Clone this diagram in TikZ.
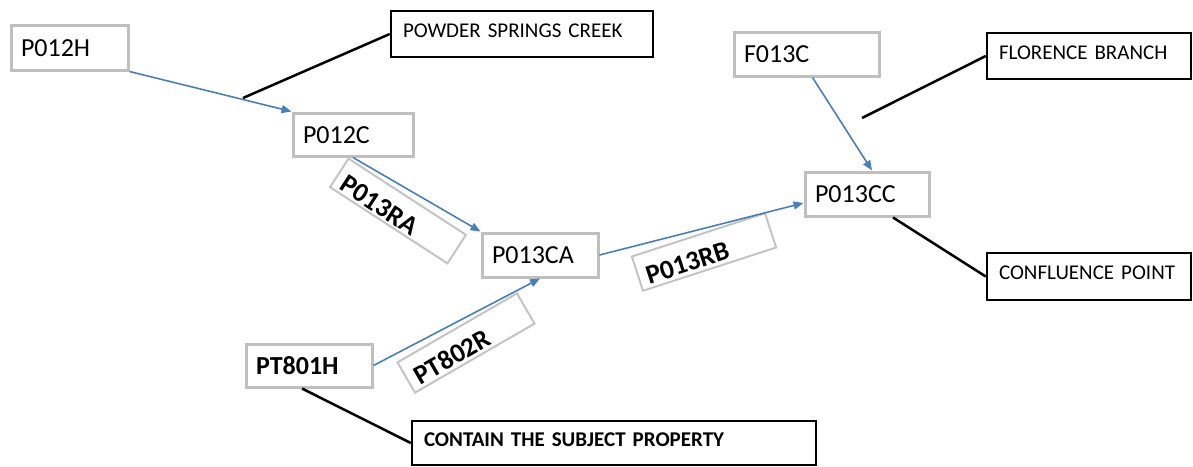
\documentclass[tikz,border=0pt]{standalone}
\usepackage{fontspec}
\setmainfont{Carlito}
\usetikzlibrary{arrows.meta}
\definecolor{boxgray}{RGB}{191,191,191}
\definecolor{lblgray}{RGB}{196,196,196}
\definecolor{flowblue}{RGB}{74,126,187}
\begin{document}
\begin{tikzpicture}[x=1pt,y=-1pt,
  gbox/.style={draw=boxgray, line width=3pt, inner xsep=10pt, inner ysep=0pt, align=left,
    text height=17pt, text depth=0pt, font=\fontsize{26pt}{30pt}\selectfont},
  gboxb/.style={gbox, font=\bfseries\fontsize{26pt}{30pt}\selectfont},
  bbox/.style={draw=black, line width=2.5pt, inner xsep=12pt, inner ysep=0pt, align=left,
    text height=15pt, text depth=9pt, font=\fontsize{21pt}{25pt}\selectfont},
  bboxb/.style={bbox, font=\bfseries\fontsize{21pt}{25pt}\selectfont},
  lbox/.style={draw=lblgray, line width=2pt, inner xsep=8pt, inner ysep=3pt, align=left,
    text height=28pt, text depth=0pt, font=\bfseries\fontsize{27pt}{30pt}\selectfont},
  flow/.style={draw=flowblue, line width=1.6pt, -{Triangle[length=10pt,width=8pt]}},
  callout/.style={draw=black, line width=2.5pt}]
\fill[white] (0,0) rectangle (1193,466);
\useasboundingbox (0,0) rectangle (1193,466);

% gray boxes
\node[gbox, text width=97pt, minimum height=45pt] (p012h) at (69.5,47.5) {P012H};
\node[gbox, text width=100pt, minimum height=43pt] (p012c) at (353,134.5) {P012C};
\node[gbox, text width=96pt, minimum height=44pt] (p013ca) at (540,255) {P013CA};
\node[gbox, text width=104pt, minimum height=44pt] (p013cc) at (867,194) {P013CC};
\node[gbox, text width=125pt, minimum height=44pt] (f013c) at (806.5,54) {F013C};
\node[gboxb, text width=106pt, minimum height=43pt] (pt801h) at (309,365.5) {PT801H};

% black callout boxes
\node[bbox, text width=238pt, minimum height=46pt] (powder) at (522,34) {POWDER SPRINGS CREEK};
\node[bbox, text width=180pt, minimum height=46pt] (florence) at (1089,56) {FLORENCE BRANCH};
\node[bbox, text width=180pt, minimum height=47pt] (confluence) at (1089,276.5) {CONFLUENCE POINT};
\node[bboxb, text width=380pt, minimum height=44pt] (contain) at (614,443) {CONTAIN THE SUBJECT PROPERTY};

% rotated reach labels
\node[lbox, text width=124pt, minimum height=32pt, rotate=-33] (p013ra) at (398,211) {P013RA};
\node[lbox, text width=124pt, minimum height=36pt, rotate=18] (p013rb) at (704,252) {P013RB};
\node[lbox, text width=122pt, minimum height=35pt, rotate=30] (pt802r) at (466,343) {PT802R};

% flow arrows
\draw[flow] (p012h.south east) -- (p012c.north west);
\draw[flow] (p012c.south) -- (p013ca.north west);
\draw[flow] (p013ca.east) -- ([yshift=-9pt]p013cc.west);
\draw[flow] ([xshift=6pt]f013c.south) -- ([xshift=5pt]p013cc.north);
\draw[flow] (pt801h.east) -- (p013ca.south);

% callout lines
\coordinate (c1) at (243,98);
\coordinate (c2) at (862,118);
\draw[callout] (c1) -- (powder.west);
\draw[callout] (c2) -- (florence.west);
\draw[callout] ([xshift=26pt]p013cc.south) -- (confluence.west);
\draw[callout] ([xshift=-7pt]pt801h.south) -- (contain.west);
\end{tikzpicture}
\end{document}
